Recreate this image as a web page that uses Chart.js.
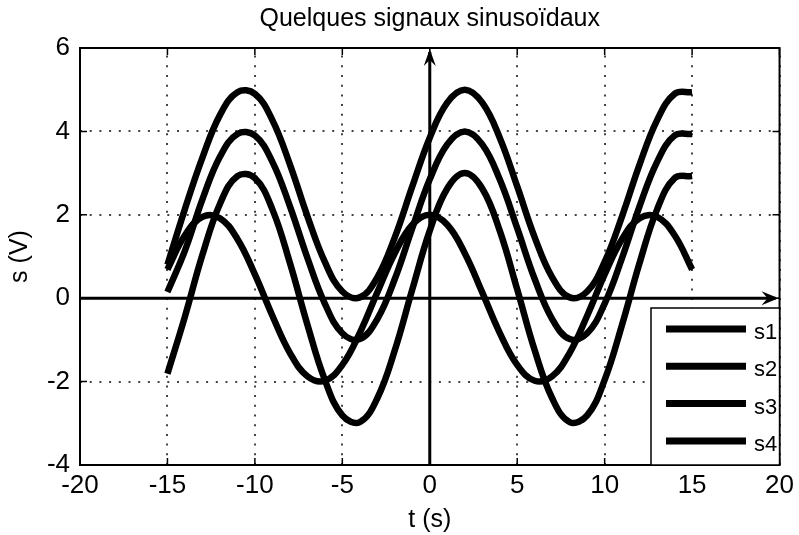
<!DOCTYPE html>
<html><head><meta charset="utf-8">
<script src="https://cdn.jsdelivr.net/npm/chart.js@4"></script>
<style>html,body{margin:0;padding:0;background:#fff;}</style>
</head><body>
<canvas id="c" width="799" height="535"></canvas>
<script>
const tValues = [-15,-14,-13,-12,-11,-10,-9,-8,-7,-6,-5,-4,-3,-2,-1,0,1,2,3,4,5,6,7,8,9,10,11,12,13,14,15];
const s1 = [0.69,1.51,1.95,1.92,1.42,0.57,-0.42,-1.31,-1.87,-1.98,-1.60,-0.83,0.14,1.08,1.76,2.00,1.76,1.08,0.14,-0.83,-1.60,-1.98,-1.87,-1.31,-0.42,0.57,1.42,1.92,1.95,1.51,0.69];
const s2 = [-1.81,-0.44,1.04,2.26,2.93,2.88,2.13,0.85,-0.63,-1.96,-2.81,-2.97,-2.40,-1.25,0.21,1.62,2.63,3.00,2.63,1.62,0.21,-1.25,-2.40,-2.97,-2.81,-1.96,-0.63,0.85,2.13,2.88,2.93];
const s3 = [0.15,1.14,2.37,3.39,3.94,3.90,3.27,2.21,0.97,-0.13,-0.84,-0.98,-0.50,0.46,1.68,2.85,3.69,4.00,3.69,2.85,1.68,0.46,-0.50,-0.98,-0.84,-0.13,0.97,2.21,3.27,3.90,3.94];
const s4 = [0.80,2.14,3.37,4.39,4.94,4.90,4.27,3.21,1.97,0.87,0.16,0.02,0.50,1.46,2.68,3.85,4.69,5.00,4.69,3.85,2.68,1.46,0.50,0.02,0.16,0.87,1.97,3.21,4.27,4.90,4.94];
const seriesLabels = ['s1','s2','s3','s4'];
const xTicks = [-20,-15,-10,-5,0,5,10,15,20];
const yTicks = [-4,-2,0,2,4,6];
const titleText = 'Quelques signaux sinusoïdaux';
const xTitle = 't (s)';
const yTitle = 's (V)';

const FONT = "'Liberation Sans', Arial, sans-serif";

const series = [s1, s2, s3, s4];
const datasets = series.map((arr, i) => ({
  label: seriesLabels[i],
  data: tValues.map((t, j) => ({x: t, y: arr[j]})),
  borderColor: '#000',
  borderWidth: 6.5,
  pointRadius: 0,
  tension: 0.4,
  fill: false
}));

const decor = {
  id: 'decor',
  beforeDatasetsDraw(chart) {
    const {ctx, chartArea: a, scales: {x, y}} = chart;
    ctx.save();
    ctx.strokeStyle = '#444';
    ctx.lineWidth = 2;
    ctx.setLineDash([2, 7.7]);
    xTicks.forEach(v => {
      const px = Math.round(x.getPixelForValue(v));
      ctx.beginPath(); ctx.moveTo(px, a.bottom); ctx.lineTo(px, a.top); ctx.stroke();
    });
    yTicks.forEach(v => {
      const py = Math.round(y.getPixelForValue(v));
      ctx.beginPath(); ctx.moveTo(a.left, py); ctx.lineTo(a.right, py); ctx.stroke();
    });
    ctx.restore();
  },
  afterDatasetsDraw(chart) {
    const {ctx, chartArea: a, scales: {x, y}} = chart;
    ctx.save();
    ctx.strokeStyle = '#000';
    ctx.lineWidth = 2;
    ctx.strokeRect(a.left, a.top, a.right - a.left, a.bottom - a.top);
    ctx.lineWidth = 1.5;
    xTicks.forEach(v => {
      const px = x.getPixelForValue(v);
      ctx.beginPath();
      ctx.moveTo(px, a.bottom); ctx.lineTo(px, a.bottom - 7);
      ctx.moveTo(px, a.top); ctx.lineTo(px, a.top + 7);
      ctx.stroke();
    });
    yTicks.forEach(v => {
      const py = y.getPixelForValue(v);
      ctx.beginPath();
      ctx.moveTo(a.left, py); ctx.lineTo(a.left + 7, py);
      ctx.moveTo(a.right, py); ctx.lineTo(a.right - 7, py);
      ctx.stroke();
    });
    const x0 = x.getPixelForValue(0), y0 = y.getPixelForValue(0);
    ctx.lineWidth = 3;
    ctx.beginPath(); ctx.moveTo(a.left, y0); ctx.lineTo(a.right - 4, y0); ctx.stroke();
    ctx.beginPath(); ctx.moveTo(x0, a.bottom); ctx.lineTo(x0, a.top + 4); ctx.stroke();
    ctx.fillStyle = '#000';
    const R = a.right - 1;
    ctx.beginPath();
    ctx.moveTo(R, y0); ctx.lineTo(R - 17, y0 - 7); ctx.lineTo(R - 11, y0); ctx.lineTo(R - 17, y0 + 7); ctx.closePath(); ctx.fill();
    const T = a.top + 1;
    ctx.beginPath();
    ctx.moveTo(x0, T); ctx.lineTo(x0 - 6, T + 17); ctx.lineTo(x0, T + 11); ctx.lineTo(x0 + 6, T + 17); ctx.closePath(); ctx.fill();
    // legend
    const lx = 651, ly = 308;
    ctx.fillStyle = '#fff';
    ctx.fillRect(lx, ly, a.right - lx, a.bottom - ly);
    ctx.strokeStyle = '#000';
    ctx.lineWidth = 1.5;
    ctx.strokeRect(lx, ly, a.right - lx, a.bottom - ly);
    ctx.font = '22px ' + FONT;
    ctx.textBaseline = 'middle';
    ctx.textAlign = 'left';
    chart.data.datasets.forEach((ds, i) => {
      const yy = 329 + i * 37.3;
      ctx.strokeStyle = ds.borderColor;
      ctx.lineWidth = 7;
      ctx.beginPath(); ctx.moveTo(666, yy); ctx.lineTo(746, yy); ctx.stroke();
      ctx.fillStyle = '#000';
      ctx.fillText(ds.label, 754, yy + 4);
    });
    ctx.restore();
  }
};

new Chart(document.getElementById('c'), {
  type: 'line',
  data: {datasets},
  options: {
    responsive: false,
    animation: false,
    layout: {padding: {left: 0, right: 15, top: 0, bottom: 0}},
    plugins: {
      legend: {display: false},
      tooltip: {enabled: false},
      title: {display: true, fullSize: false, text: titleText, color: '#000',
        font: {family: FONT, size: 25, weight: 'normal'}, padding: {top: 4, bottom: 14}}
    },
    scales: {
      x: {
        type: 'linear', min: -20, max: 20,
        afterBuildTicks: s => { s.ticks = xTicks.map(v => ({value: v})); },
        afterFit: s => { s.height = 70; },
        grid: {display: false, drawTicks: false}, border: {display: false},
        ticks: {color: '#000', font: {family: FONT, size: 26}, padding: 5, maxRotation: 0},
        title: {display: true, text: xTitle, color: '#000', font: {family: FONT, size: 25}, padding: {top: 0, bottom: 0}}
      },
      y: {
        type: 'linear', min: -4, max: 6,
        afterBuildTicks: s => { s.ticks = yTicks.map(v => ({value: v})); },
        afterFit: s => { s.width = 80; },
        grid: {display: false, drawTicks: false}, border: {display: false},
        ticks: {color: '#000', font: {family: FONT, size: 26}, padding: 10},
        title: {display: true, text: yTitle, color: '#000', font: {family: FONT, size: 25}, padding: {top: 5, bottom: 0}}
      }
    }
  },
  plugins: [decor]
});
</script>
</body></html>
